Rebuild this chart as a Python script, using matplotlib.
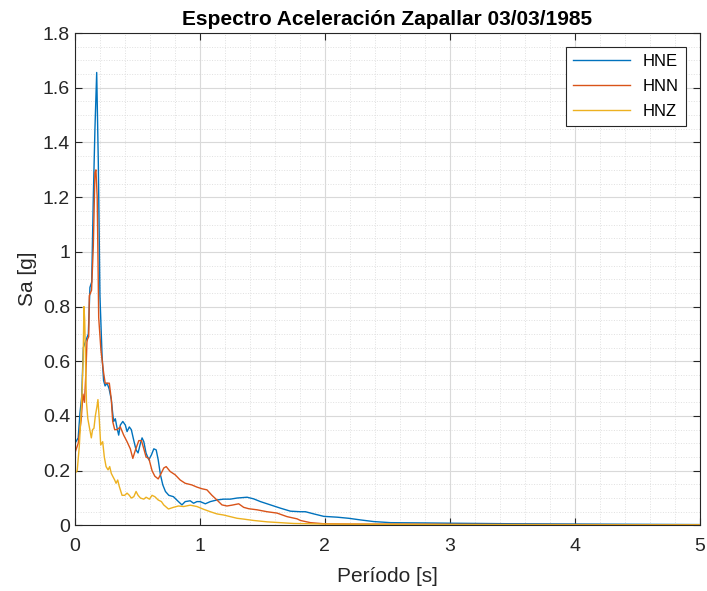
import numpy as np
import matplotlib
matplotlib.use('Agg')
import matplotlib.pyplot as plt
from matplotlib.ticker import MultipleLocator

# Periods [s] and spectral accelerations [g]
t_hne = [0.0, 0.026, 0.04, 0.054, 0.067, 0.08, 0.107, 0.12, 0.134, 0.147,
         0.16, 0.174, 0.187, 0.20, 0.217, 0.229, 0.241, 0.257, 0.273, 0.291,
         0.302, 0.31, 0.323, 0.337, 0.35, 0.363, 0.383, 0.403, 0.417, 0.435,
         0.451, 0.471, 0.489, 0.505, 0.524, 0.537, 0.551, 0.569, 0.591, 0.612,
         0.631, 0.65, 0.666, 0.684, 0.703, 0.724, 0.751, 0.788, 0.828, 0.856,
         0.882, 0.922, 0.949, 0.976, 1.002, 1.043, 1.083, 1.136, 1.189, 1.243,
         1.297, 1.377, 1.43, 1.484, 1.564, 1.644, 1.724, 1.804, 1.844, 1.911,
         1.991, 2.099, 2.19, 2.285, 2.39, 2.526, 2.79, 3.0, 3.5, 4.0, 4.5, 5.0]
sa_hne = [0.30, 0.32, 0.41, 0.47, 0.65, 0.667, 0.70, 0.87, 0.89, 1.20,
          1.45, 1.656, 1.325, 0.84, 0.62, 0.53, 0.51, 0.52, 0.50, 0.46,
          0.41, 0.38, 0.39, 0.356, 0.33, 0.367, 0.38, 0.367, 0.343, 0.36,
          0.35, 0.31, 0.276, 0.265, 0.30, 0.32, 0.306, 0.264, 0.24, 0.258,
          0.28, 0.276, 0.24, 0.185, 0.148, 0.124, 0.11, 0.105, 0.087, 0.075,
          0.087, 0.09, 0.081, 0.087, 0.087, 0.079, 0.087, 0.093, 0.096, 0.096,
          0.10, 0.103, 0.097, 0.087, 0.075, 0.063, 0.052, 0.05, 0.05, 0.042,
          0.033, 0.03, 0.026, 0.02, 0.014, 0.01, 0.009, 0.008, 0.006, 0.005, 0.004, 0.003]

t_hnn = [0.0, 0.026, 0.05, 0.064, 0.076, 0.088, 0.096, 0.10, 0.11, 0.115,
         0.133, 0.147, 0.16, 0.168, 0.178, 0.185, 0.19, 0.208, 0.23, 0.242,
         0.262, 0.275, 0.291, 0.302, 0.318, 0.337, 0.363, 0.39, 0.417, 0.443,
         0.463, 0.484, 0.511, 0.532, 0.551, 0.569, 0.591, 0.617, 0.639, 0.666,
         0.684, 0.711, 0.73, 0.762, 0.802, 0.842, 0.882, 0.935, 0.976, 1.016,
         1.056, 1.096, 1.136, 1.176, 1.216, 1.256, 1.31, 1.35, 1.39, 1.457,
         1.537, 1.617, 1.697, 1.777, 1.804, 1.884, 1.991, 2.2, 3.0, 4.0, 5.0]
sa_hnn = [0.265, 0.30, 0.386, 0.48, 0.45, 0.56, 0.67, 0.68, 0.69, 0.84,
          0.86, 1.02, 1.29, 1.30, 1.20, 0.95, 0.76, 0.64, 0.556, 0.52,
          0.52, 0.52, 0.46, 0.38, 0.35, 0.35, 0.36, 0.33, 0.306, 0.28,
          0.245, 0.276, 0.31, 0.31, 0.28, 0.25, 0.245, 0.20, 0.18, 0.17,
          0.185, 0.21, 0.215, 0.197, 0.185, 0.166, 0.154, 0.148, 0.14, 0.134,
          0.13, 0.11, 0.093, 0.075, 0.071, 0.074, 0.079, 0.066, 0.061, 0.057,
          0.05, 0.045, 0.032, 0.024, 0.018, 0.01, 0.006, 0.005, 0.004, 0.003, 0.002]

t_hnz = [0.0, 0.018, 0.035, 0.05, 0.058, 0.066, 0.072, 0.078, 0.086, 0.092,
         0.103, 0.131, 0.141, 0.152, 0.163, 0.176, 0.184, 0.195, 0.206, 0.222,
         0.235, 0.249, 0.265, 0.278, 0.291, 0.302, 0.318, 0.329, 0.342, 0.355,
         0.377, 0.398, 0.417, 0.435, 0.451, 0.471, 0.489, 0.505, 0.524, 0.551,
         0.569, 0.596, 0.617, 0.639, 0.666, 0.692, 0.71, 0.748, 0.788, 0.828,
         0.87, 0.922, 0.976, 1.029, 1.083, 1.136, 1.189, 1.243, 1.297, 1.35,
         1.43, 1.537, 1.644, 1.75, 2.0, 3.0, 4.0, 5.0]
sa_hnz = [0.19, 0.20, 0.29, 0.42, 0.50, 0.62, 0.80, 0.75, 0.58, 0.45,
          0.39, 0.32, 0.35, 0.355, 0.40, 0.434, 0.46, 0.386, 0.294, 0.306,
          0.25, 0.215, 0.203, 0.215, 0.19, 0.18, 0.166, 0.154, 0.166, 0.142,
          0.11, 0.11, 0.118, 0.11, 0.10, 0.105, 0.124, 0.11, 0.10, 0.096,
          0.103, 0.096, 0.11, 0.105, 0.093, 0.087, 0.075, 0.06, 0.066, 0.071,
          0.069, 0.074, 0.069, 0.059, 0.05, 0.042, 0.038, 0.032, 0.026, 0.023,
          0.018, 0.013, 0.01, 0.007, 0.005, 0.003, 0.002, 0.002]

plt.rcParams['font.family'] = ['Liberation Sans Narrow', 'Liberation Sans', 'DejaVu Sans']

fig = plt.figure(figsize=(7.07, 5.91), dpi=100)
ax = fig.add_axes([0.106, 0.111, 0.884, 0.833])

ax.plot(t_hne, sa_hne, color='#0072BD', lw=1.0, label='HNE')
ax.plot(t_hnn, sa_hnn, color='#D95319', lw=1.0, label='HNN')
ax.plot(t_hnz, sa_hnz, color='#EDB120', lw=1.0, label='HNZ')

ax.set_xlim(0, 5)
ax.set_ylim(0, 1.8)
ax.xaxis.set_major_locator(MultipleLocator(1))
ax.xaxis.set_minor_locator(MultipleLocator(0.2))
ax.yaxis.set_minor_locator(MultipleLocator(0.05))
ax.set_yticks(np.arange(0, 1.81, 0.2))
ax.set_yticklabels(['0', '0.2', '0.4', '0.6', '0.8', '1', '1.2', '1.4', '1.6', '1.8'])

ax.grid(which='major', color='#d9d9d9', lw=0.8)
ax.grid(which='minor', color='#e0e0e0', lw=0.7, ls=':')
ax.set_axisbelow(True)

ax.tick_params(which='both', direction='in', top=True, right=True,
               colors='#262626', labelsize=14)
ax.tick_params(which='minor', length=0)
ax.tick_params(which='major', length=5)
ax.tick_params(axis='x', pad=9)
for s in ax.spines.values():
    s.set_color('#262626')
    s.set_linewidth(0.8)

ax.set_xlabel('Período [s]', fontsize=15, color='#262626', labelpad=9)
ax.set_ylabel('Sa [g]', fontsize=15, color='#262626')
ax.set_title('Espectro Aceleración Zapallar 03/03/1985', fontsize=15,
             fontweight='bold', pad=6)

leg = ax.legend(loc='upper right', fontsize=12, handlelength=3.4,
                fancybox=False, framealpha=1, edgecolor='#262626',
                borderaxespad=0.85, labelspacing=0.6)
leg.get_frame().set_linewidth(0.8)

plt.savefig('out.png', dpi=100)
